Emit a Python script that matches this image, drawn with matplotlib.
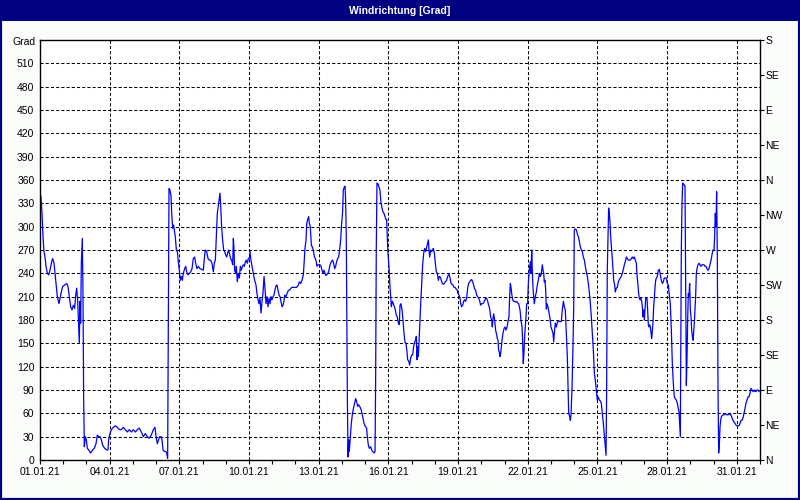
import matplotlib
matplotlib.use("Agg")
import matplotlib.pyplot as plt
import matplotlib.dates as mdates
from matplotlib.patches import Rectangle
import pandas as pd

# ---- data: hours since 01.01.21 00:00 and wind direction in degrees ----
hours_a = [0, 1.0, 2.1, 3.1, 4.1, 5.2, 6.2, 7.6, 9.0, 10.3, 12.1, 13.1, 14.5, 15.5, 16.5, 17.9, 19.6, 20.7, 22.0, 23.4,
           25.5, 27.6, 28.9, 30.3, 31.7, 33.1, 34.4, 35.8, 36.9, 37.9, 38.9, 40.0, 40.6, 41.3, 42.0, 42.7, 43.7, 44.4,
           45.1, 45.8, 46.8, 47.9, 48.9, 50.3, 52.3, 54.4, 56.1, 57.9, 59.2, 60.6, 62.0, 63.4, 64.7, 66.8, 68.9, 70.3,
           70.9, 72.3, 73.7, 75.8, 77.8, 79.9, 82.0, 84.0, 86.1, 88.2, 90.2, 92.3, 94.4, 96.4, 98.5, 100.6, 102.6,
           104.7, 106.8, 108.8, 110.9, 113.0, 115.0, 117.1, 118.8, 119.9, 121.2, 122.6, 123.6]
deg_a = [339, 339, 317, 287, 268, 261, 249, 240, 238, 244, 255, 259, 253, 240, 227, 210, 201, 208, 216, 223,
         225, 227, 223, 210, 197, 193, 199, 195, 212, 221, 206, 171, 150, 204, 176, 253, 285, 216,
         81, 17, 30, 26, 15, 13, 9, 13, 15, 21, 32, 30, 30, 26, 19, 15, 13, 13,
         26, 34, 39, 42, 44, 42, 39, 39, 42, 39, 36, 39, 36, 39, 36, 39, 41,
         36, 30, 34, 30, 28, 32, 39, 42, 30, 21, 26, 30]

hours_b = [125.0, 126.1, 127.1, 128.5, 129.9, 130.9, 131.9, 132.6, 133.3, 134.3, 135.4, 136.1, 137.1, 138.1, 138.8,
           139.8, 140.9, 141.9, 142.9, 144.0, 145.0, 146.0, 147.1, 148.1, 149.5, 150.5, 151.6, 152.9, 154.3, 155.7,
           157.1, 158.4, 159.8, 160.9, 162.2, 163.6, 165.3, 167.4, 168.8, 169.8, 170.8, 172.2, 173.6, 175.0, 176.3,
           177.7, 179.1, 180.1, 181.2, 182.2, 183.2, 184.3, 185.3, 186.0, 186.7, 187.7, 188.7, 189.8, 190.8, 191.8,
           192.9, 193.9, 194.9, 196.0, 197.0, 198.0, 199.1, 199.8, 200.5, 201.1, 202.2, 202.9, 203.9, 204.9, 206.0,
           207.0, 208.0, 209.1, 210.1, 211.1, 212.2, 213.2, 214.2, 215.3, 216.3, 217.0, 218.0, 219.1, 220.4, 221.8,
           223.2, 224.2, 225.3, 226.3, 227.3, 228.4, 229.4, 230.4, 231.5, 232.5, 233.5, 234.6, 235.6, 236.6, 237.7,
           238.7, 239.7, 240.8, 241.8, 242.8, 243.9, 244.9, 245.9, 247.0]
deg_b = [30, 26, 13, 11, 11, 9, 2, 176, 349, 347, 339, 317, 298, 302, 296,
         287, 270, 268, 255, 244, 231, 236, 231, 240, 246, 249, 242, 238, 240, 242,
         246, 259, 261, 253, 246, 249, 246, 245, 244, 259, 270, 268, 259, 257, 257,
         253, 242, 253, 257, 287, 317, 327, 336, 343, 327, 300, 283, 270, 268, 264,
         261, 266, 270, 264, 259, 257, 251, 285, 270, 244, 240, 249, 229, 240, 234,
         249, 244, 249, 251, 249, 255, 257, 253, 259, 259, 268, 257, 249, 240, 231,
         225, 214, 206, 201, 208, 189, 204, 214, 236, 221, 201, 210, 197, 208, 201,
         210, 206, 210, 212, 219, 224, 225, 219, 212]

hours_c = [248.0, 249.0, 250.1, 251.1, 252.1, 252.8, 254.2, 255.2, 256.6, 258.3, 260.1, 261.8, 263.5, 265.2, 266.9,
           268.0, 269.4, 270.7, 272.1, 272.8, 273.8, 274.9, 275.6, 276.6, 277.6, 278.3, 279.3, 280.4, 281.4, 282.4,
           283.5, 284.5, 285.5, 286.2, 287.3, 288.3, 289.3, 290.4, 291.4, 292.4, 293.5, 294.5, 295.5, 296.6, 297.6,
           298.6, 299.7, 301.0, 302.4, 303.4, 304.5, 305.5, 306.5, 307.6, 308.6, 309.6, 310.7, 311.7, 312.7, 313.4,
           314.5, 315.2, 315.8, 316.5, 317.6, 318.3, 318.9, 319.6, 320.7, 321.7, 322.7, 323.8, 325.1, 326.2, 327.2,
           328.2, 329.3, 330.7, 332.0, 333.4, 334.8, 336.2, 337.5, 338.2, 339.3, 340.3, 341.7, 342.7, 343.7, 345.1,
           346.2, 346.8, 347.5, 348.2, 349.3, 350.3, 351.3, 352.4, 353.4, 354.4, 355.5, 356.5, 357.5, 358.2, 358.9,
           359.6, 360.6, 361.3, 362.3, 363.0, 364.1, 365.1, 366.1, 367.2, 368.2, 369.2, 370.3, 371.3]
deg_c = [210, 204, 197, 199, 204, 212, 210, 214, 218, 219, 222, 222, 222, 222, 225,
         229, 227, 231, 238, 251, 272, 283, 304, 309, 313, 304, 300, 276, 274, 270,
         261, 259, 255, 249, 251, 251, 251, 249, 244, 240, 244, 240, 237, 239, 240,
         244, 251, 255, 257, 253, 246, 249, 255, 259, 261, 270, 283, 304, 319, 347,
         351, 352, 334, 287, 81, 4, 26, 11, 30, 47, 58, 66, 73, 79, 75,
         69, 71, 68, 64, 56, 47, 43, 41, 30, 19, 15, 17, 13, 11, 9,
         11, 99, 272, 356, 355, 351, 347, 330, 324, 319, 317, 313, 309, 309, 285,
         266, 249, 231, 210, 197, 204, 201, 197, 193, 186, 184, 176, 174]

hours_d = [372.0, 373.0, 374.1, 375.1, 376.1, 377.2, 378.2, 379.2, 379.9, 381.0, 382.0, 383.0, 384.1, 385.1, 386.1,
           387.2, 388.2, 388.9, 389.6, 390.3, 390.9, 391.6, 392.3, 393.4, 394.4, 395.4, 396.5, 397.5, 398.5, 399.6,
           400.6, 401.3, 402.0, 402.7, 403.7, 404.7, 405.8, 406.4, 407.5, 408.5, 409.5, 410.6, 411.6, 412.6, 413.7,
           414.7, 415.7, 416.8, 417.8, 418.8, 420.2, 421.2, 422.6, 423.7, 424.7, 425.7, 426.8, 427.8, 428.8, 429.9,
           430.9, 431.9, 433.0, 434.0, 434.7, 435.7, 436.7, 437.8, 438.8, 439.8, 440.9, 441.9, 442.9, 444.0, 445.0,
           446.0, 447.1, 448.1, 449.1, 450.2, 451.2, 452.2, 453.3, 454.3, 455.3, 456.4, 457.4, 458.4, 459.5, 460.5,
           461.5, 462.6, 463.6, 464.6, 465.7, 466.7, 467.4, 468.1, 468.8, 469.8, 470.8, 471.9, 472.6, 473.3, 473.9,
           474.6, 475.3, 476.0, 476.7, 477.4, 478.4, 479.5, 480.5, 481.5, 482.6, 483.6, 484.6, 485.3, 486.0, 486.7,
           487.4, 488.4, 489.4, 490.5, 491.5, 492.5, 493.6, 494.6, 495.6]
deg_d = [199, 201, 193, 180, 163, 151, 150, 139, 129, 127, 122, 131, 135, 135, 146,
         152, 154, 159, 129, 146, 133, 150, 171, 201, 227, 251, 266, 272, 268, 274,
         279, 283, 270, 261, 270, 268, 270, 272, 266, 253, 242, 240, 231, 236, 235,
         231, 227, 226, 227, 229, 231, 236, 239, 234, 227, 226, 225, 222, 222, 220,
         219, 214, 212, 208, 201, 197, 199, 204, 206, 204, 208, 221, 227, 229, 231,
         232, 229, 225, 220, 218, 212, 210, 208, 205, 199, 201, 201, 202, 205, 208,
         208, 204, 199, 195, 184, 180, 171, 182, 188, 180, 167, 161, 156, 154, 141,
         139, 133, 137, 146, 154, 163, 169, 171, 167, 171, 178, 184, 210, 227, 222,
         214, 206, 204, 204, 203, 204, 202, 201, 195]

hours_e = [496.0, 497.0, 498.1, 498.8, 499.4, 500.1, 500.8, 501.5, 502.2, 502.9, 503.9, 504.6, 505.6, 506.7, 507.4,
           508.1, 508.7, 509.4, 510.1, 510.8, 511.8, 512.9, 513.9, 514.9, 516.0, 517.0, 517.7, 518.4, 519.1, 519.8,
           520.5, 521.1, 521.8, 522.5, 523.2, 523.9, 524.9, 526.0, 527.0, 528.0, 529.1, 530.1, 530.8, 531.5, 532.5,
           533.5, 534.6, 535.6, 536.6, 537.7, 538.7, 539.7, 540.8, 541.8, 542.8, 543.9, 544.9, 545.6, 546.3, 547.3,
           548.0, 548.7, 549.7, 550.8, 551.5, 552.1, 553.2, 554.2, 555.2, 556.3, 557.3, 558.3, 559.4, 560.4, 561.4,
           562.5, 563.5, 564.5, 565.6, 566.6, 567.6, 568.7, 569.7, 570.7, 571.8, 572.8, 573.8, 574.9, 575.9, 576.9,
           578.0, 579.0, 580.0, 581.1, 582.1, 583.1, 584.2, 584.9, 585.5, 586.2, 586.9, 587.6, 588.3, 589.0, 589.7,
           590.7, 591.7, 592.8, 593.8, 594.5, 595.5, 596.6, 597.6, 598.6, 599.7, 600.7, 601.7, 602.8, 603.8, 604.8,
           605.9, 606.9, 607.9, 609.0, 610.0, 611.0, 612.1, 613.1, 614.1, 615.2, 616.2, 616.9, 617.9, 618.6, 619.3]
deg_e = [193, 180, 171, 150, 124, 139, 159, 171, 184, 201, 201, 227, 244, 255, 240,
         270, 244, 222, 210, 201, 210, 216, 225, 231, 240, 236, 238, 244, 251, 244,
         240, 229, 231, 220, 194, 201, 197, 189, 182, 171, 167, 163, 152, 163, 176,
         171, 177, 179, 178, 178, 178, 193, 204, 197, 193, 163, 133, 99, 60, 56,
         51, 58, 90, 150, 197, 296, 297, 296, 291, 287, 281, 274, 270, 268, 261,
         257, 249, 242, 236, 227, 216, 201, 184, 163, 141, 112, 103, 90, 77, 81,
         77, 76, 73, 60, 47, 32, 17, 6, 86, 244, 287, 324, 317, 306, 287,
         270, 253, 231, 225, 216, 221, 222, 229, 232, 234, 236, 240, 245, 251, 255,
         261, 259, 257, 257, 257, 259, 261, 259, 261, 257, 253, 238, 225, 214, 208]

hours_f = [620.0, 621.0, 621.7, 622.4, 623.1, 623.8, 624.5, 625.2, 625.9, 626.5, 627.2, 627.9, 628.6, 629.3, 630.0,
           630.7, 631.4, 632.1, 632.7, 633.4, 634.1, 634.8, 635.5, 636.2, 636.9, 637.9, 638.9, 640.0, 641.0, 642.0,
           643.1, 644.1, 645.1, 646.2, 647.2, 648.2, 649.3, 650.3, 651.3, 652.4, 653.4, 654.4, 655.5, 656.5, 657.5,
           658.6, 659.6, 660.3, 661.0, 661.7, 662.0, 662.7, 663.4, 664.1, 664.8, 665.8, 666.5, 667.2, 667.9, 668.6,
           669.2, 669.9, 670.6, 671.3, 672.0, 672.7, 673.4, 674.1, 674.8, 675.4, 676.1, 676.8, 677.5, 678.2, 678.9,
           679.9, 681.0, 682.0, 683.0, 684.1, 685.1, 686.1, 687.2, 688.2, 689.2, 690.3, 691.3, 692.3, 693.4, 694.4,
           695.4, 696.5, 697.1, 697.8, 698.5, 699.2, 699.9, 700.6, 701.3, 702.0, 702.7, 703.7, 704.7, 705.8, 706.8,
           707.8, 708.9, 709.9, 710.9, 712.0, 713.0, 714.0, 715.1, 716.1, 717.1, 718.2, 719.2, 720.2, 721.3, 722.3,
           723.3, 724.4, 725.4, 726.4, 727.5, 728.5, 729.5, 730.6, 731.6, 732.6, 733.7, 734.7, 735.7, 736.8, 737.8,
           738.8, 739.9, 740.9, 741.9, 743.0]
deg_f = [206, 208, 204, 197, 184, 193, 180, 193, 208, 208, 208, 193, 174, 171, 174,
         171, 163, 156, 165, 176, 197, 208, 222, 231, 234, 236, 244, 245, 238, 231,
         227, 229, 234, 234, 234, 227, 225, 212, 201, 167, 124, 99, 81, 79, 77,
         73, 66, 62, 45, 30, 112, 270, 330, 356, 355, 353, 353, 225, 96, 133,
         176, 214, 210, 227, 193, 184, 167, 159, 154, 163, 176, 193, 210, 240, 246,
         251, 253, 251, 249, 251, 251, 251, 249, 249, 246, 244, 246, 251, 257, 264,
         270, 270, 287, 317, 300, 345, 261, 94, 9, 21, 43, 54, 57, 58, 58,
         59, 59, 58, 58, 60, 58, 58, 54, 51, 49, 47, 45, 44, 44, 44,
         47, 51, 51, 54, 60, 66, 73, 77, 81, 81, 86, 92, 90, 88, 90,
         88, 88, 90, 90, 88]

y_ticks = list(range(0, 540, 30))
dir_labels = ["N", "NE", "E", "SE", "S", "SW", "W", "NW", "N", "NE", "E", "SE", "S"]
date_labels = ["01.01.21", "04.01.21", "07.01.21", "10.01.21", "13.01.21", "16.01.21",
               "19.01.21", "22.01.21", "25.01.21", "28.01.21", "31.01.21"]
title = "Windrichtung [Grad]"

hours = hours_a + hours_b + hours_c + hours_d + hours_e + hours_f
degs = deg_a + deg_b + deg_c + deg_d + deg_e + deg_f
start = pd.Timestamp("2021-01-01")
times = start + pd.to_timedelta(hours, unit="h")
label_dates = pd.to_datetime(date_labels, format="%d.%m.%y")

plt.rcParams["font.family"] = ["Liberation Sans", "DejaVu Sans"]
NAVY = "#000080"

fig = plt.figure(figsize=(8, 5), dpi=100)
fig.patch.set_facecolor("#FAFCFA")
W, H = 800, 500
ax = fig.add_axes([40 / W, 1 - 460 / H, 720 / W, 420 / H])
ax.set_facecolor("white")

ax.plot(times, degs, color="#0000FF", lw=0.9)

ax.set_xlim(start, pd.Timestamp("2021-02-01"))
ax.set_ylim(0, 540)

dash = (0, (3, 2))
ax.set_yticks(y_ticks)
ax.set_yticklabels([str(v) for v in y_ticks], fontsize=7.5)
ax.tick_params(axis="y", length=0, pad=4)
for v in y_ticks[1:]:
    ax.axhline(v, color="black", lw=0.75, ls=dash, zorder=1)

ax.set_xticks(label_dates)
ax.set_xticklabels(date_labels)
ax.xaxis.set_minor_locator(mdates.DayLocator())
ax.tick_params(axis="x", which="both", length=3, width=0.8, direction="out", labelsize=7.5, pad=2)
for d in label_dates[1:]:
    ax.axvline(d, color="black", lw=0.75, ls=dash, zorder=1)

ax.text(-4 / 720, 537, "Grad", transform=ax.get_yaxis_transform(), fontsize=7.5,
        ha="right", va="center")

for s in ax.spines.values():
    s.set_color("black")
    s.set_linewidth(1.0)

ax2 = ax.twinx()
ax2.set_ylim(0, 540)
ax2.set_yticks(range(0, 541, 45))
ax2.set_yticklabels(dir_labels, fontsize=7.5)
ax2.tick_params(axis="y", length=3, width=0.8, pad=1)
for s in ax2.spines.values():
    s.set_visible(False)

# title bar and frame
fig.patches.append(Rectangle((0, 1 - 21 / H), 1, 21 / H, transform=fig.transFigure,
                             facecolor=NAVY, edgecolor="none", zorder=0))
fig.patches.append(Rectangle((0, 0), 1, 1, transform=fig.transFigure,
                             facecolor="none", edgecolor=NAVY, lw=3, zorder=5))
fig.text(0.5, 1 - 10.5 / H, title, color="white", fontsize=7.5, fontweight="bold",
         ha="center", va="center")

fig.savefig("out.png", dpi=100, facecolor=fig.get_facecolor())
